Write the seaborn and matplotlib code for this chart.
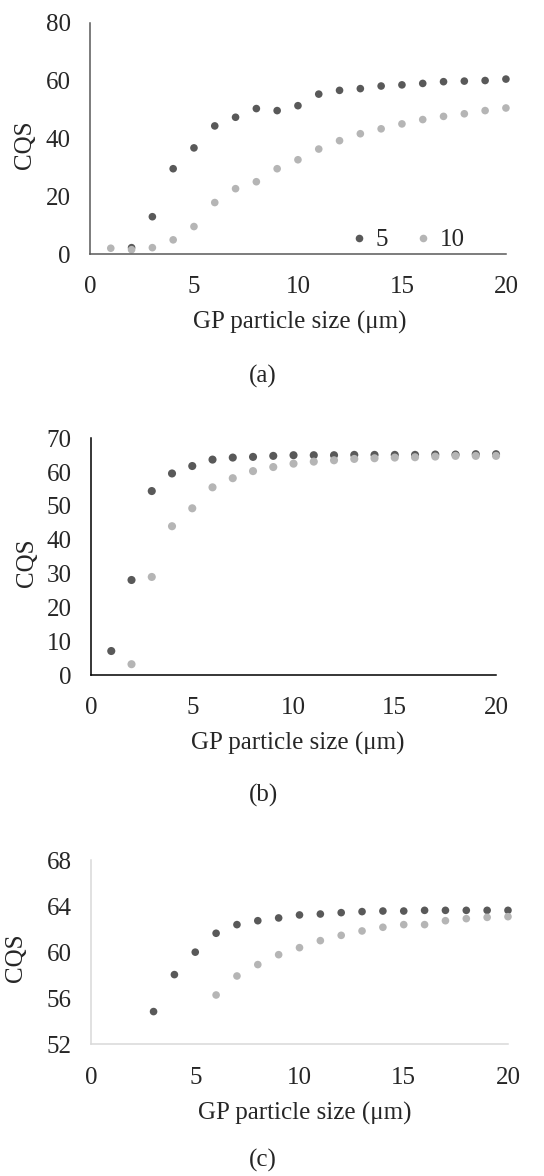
import matplotlib
matplotlib.use("Agg")
import matplotlib.pyplot as plt
import pandas as pd
import seaborn as sns

# GP particle size (um) and CQS values per panel; two series "5" and "10"
a_size_5 = list(range(2, 21))
a_cqs_5 = [2.2, 12.9, 29.5, 36.7, 44.3, 47.3, 50.3, 49.6, 51.3, 55.3,
           56.6, 57.2, 58.1, 58.5, 59.0, 59.6, 59.8, 60.0, 60.5]
a_size_10 = list(range(1, 21))
a_cqs_10 = [2.0, 1.5, 2.2, 4.9, 9.5, 17.8, 22.6, 25.0, 29.5, 32.6,
            36.3, 39.2, 41.6, 43.3, 45.0, 46.5, 47.6, 48.5, 49.6, 50.5]

b_size_5 = list(range(1, 21))
b_cqs_5 = [7.1, 28.1, 54.4, 59.6, 61.8, 63.7, 64.3, 64.5, 64.8, 65.0,
           65.0, 65.0, 65.1, 65.1, 65.1, 65.1, 65.2, 65.2, 65.3, 65.3]
b_size_10 = list(range(2, 21))
b_cqs_10 = [3.2, 29.0, 44.0, 49.3, 55.5, 58.2, 60.3, 61.5, 62.5, 63.1,
            63.5, 63.9, 64.1, 64.3, 64.4, 64.6, 64.8, 64.8, 64.8]

c_size_5 = list(range(3, 21))
c_cqs_5 = [54.84, 58.05, 60.0, 61.64, 62.39, 62.73, 62.97, 63.23, 63.31,
           63.43, 63.52, 63.57, 63.57, 63.63, 63.63, 63.63, 63.63, 63.63]
c_size_10 = list(range(6, 21))
c_cqs_10 = [56.28, 57.93, 58.92, 59.78, 60.39, 61.0, 61.46, 61.84, 62.16,
            62.39, 62.39, 62.73, 62.91, 63.02, 63.08]

series_names = ["5", "10"]
colors = {"5": "#595959", "10": "#b5b5b5"}


def make_df(s5, v5, s10, v10):
    d5 = pd.DataFrame({"size": s5, "cqs": v5, "series": "5"})
    d10 = pd.DataFrame({"size": s10, "cqs": v10, "series": "10"})
    return pd.concat([d5, d10], ignore_index=True)


sns.set_style("white")
plt.rcParams["font.family"] = ["Liberation Serif", "DejaVu Serif"]
FS = 18

fig = plt.figure(figsize=(5.44, 11.76), dpi=100)

panels = [
    dict(df=make_df(a_size_5, a_cqs_5, a_size_10, a_cqs_10),
         rect=[0.1654, 0.784, 0.7646, 0.1967], ylim=(0, 80),
         yticks=[0, 20, 40, 60, 80], spine="#595959", s=30,
         ylab=(-0.156, 0.471), xlab=(0.505, -0.294), cap="(a)", cap_y=376),
    dict(df=make_df(b_size_5, b_cqs_5, b_size_10, b_cqs_10),
         rect=[0.1673, 0.426, 0.7445, 0.2013], ylim=(0, 70),
         yticks=list(range(0, 71, 10)), spine="#000000", s=34,
         ylab=(-0.158, 0.473), xlab=(0.511, -0.287), cap="(b)", cap_y=795),
    dict(df=make_df(c_size_5, c_cqs_5, c_size_10, c_cqs_10),
         rect=[0.1673, 0.112, 0.7665, 0.1567], ylim=(52, 68),
         yticks=[52, 56, 60, 64, 68], spine="#d9d9d9", s=30,
         ylab=(-0.18, 0.468), xlab=(0.513, -0.373), cap="(c)", cap_y=1160),
]

for i, p in enumerate(panels):
    ax = fig.add_axes(p["rect"])
    sns.scatterplot(data=p["df"], x="size", y="cqs", hue="series",
                    hue_order=series_names, palette=colors, s=p["s"],
                    linewidth=0, ax=ax, legend=(i == 0), clip_on=False)
    ax.set_xlim(0, 20)
    ax.set_ylim(*p["ylim"])
    ax.set_xticks([0, 5, 10, 15, 20])
    ax.set_yticks(p["yticks"])
    ax.tick_params(axis="both", length=0, labelsize=FS)
    ax.tick_params(axis="x", pad=16)
    ax.tick_params(axis="y", pad=14)
    sns.despine(ax=ax)
    for side in ["left", "bottom"]:
        ax.spines[side].set_color(p["spine"])
        ax.spines[side].set_linewidth(1.1)

    ax.set_xlabel("GP particle size (μm)", fontsize=FS)
    ax.set_ylabel("CQS", fontsize=FS)
    ax.xaxis.set_label_coords(*p["xlab"])
    ax.yaxis.set_label_coords(*p["ylab"])
    ax.xaxis.label.set_va("center")
    ax.yaxis.label.set_va("center")

    if i == 0:
        ax.legend(loc="center", bbox_to_anchor=(0.765, 0.06), ncol=2,
                  frameon=False, fontsize=FS, markerscale=1.0,
                  handlelength=0.6, handletextpad=0.35, columnspacing=1.1,
                  borderpad=0)

    fig.text(263 / 544, 1 - p["cap_y"] / 1176, p["cap"], fontsize=FS,
             ha="center", va="center")

fig.savefig("out.png", dpi=100)
